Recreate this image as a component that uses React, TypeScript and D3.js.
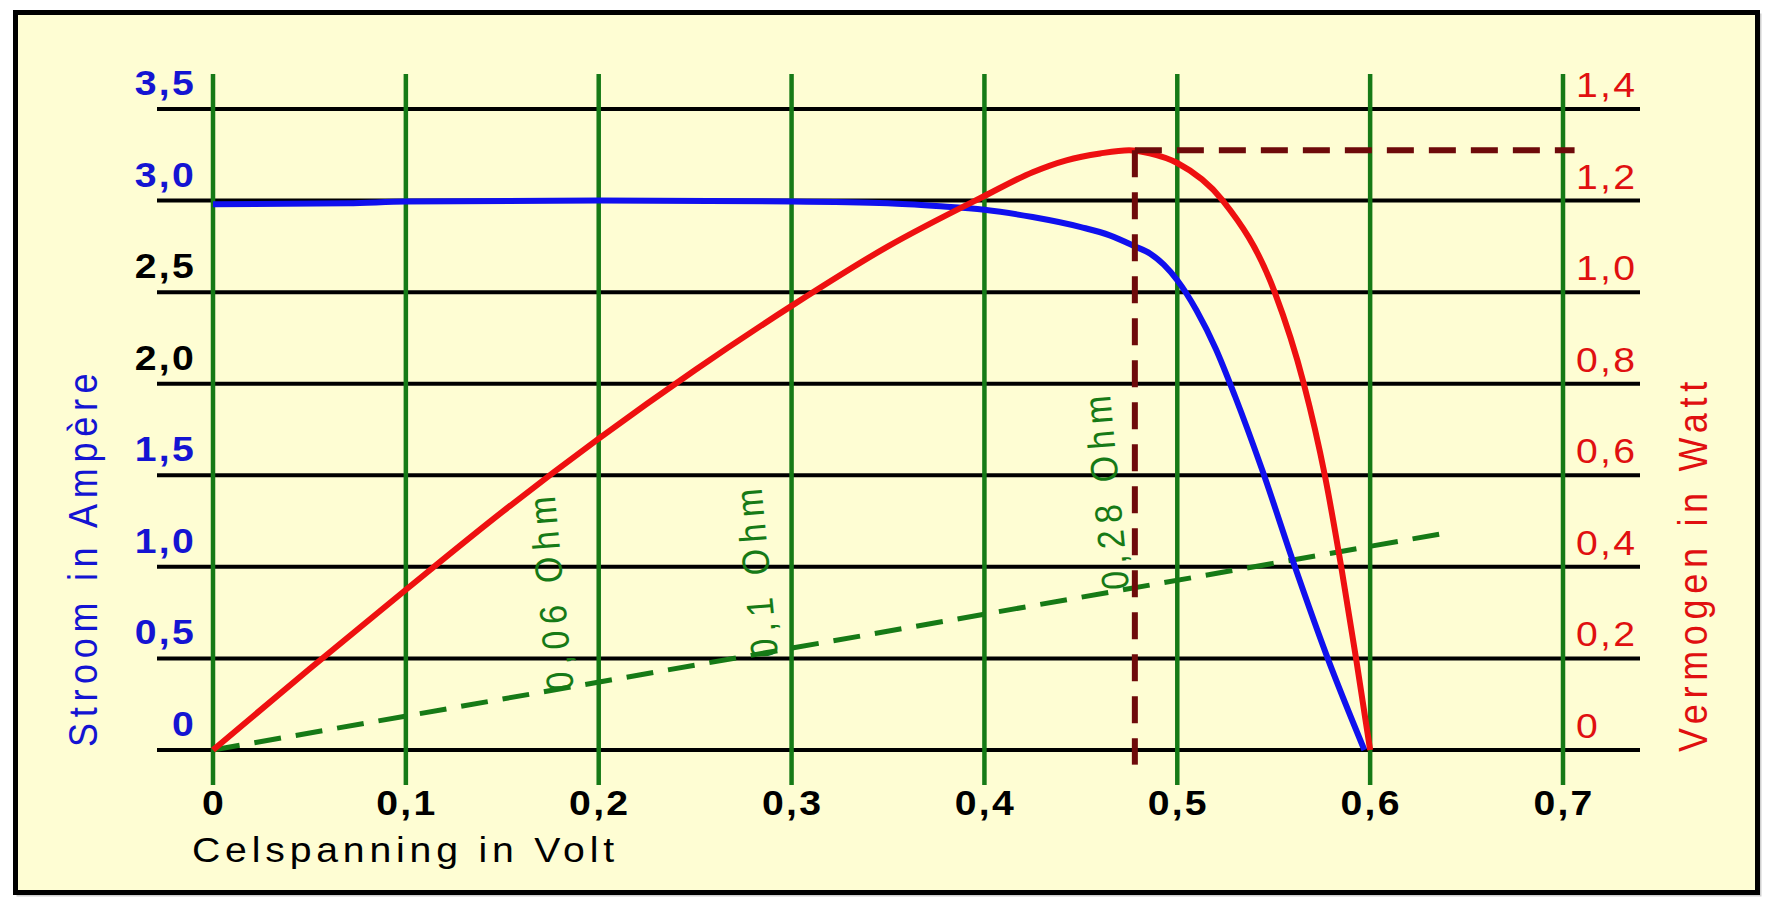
import React from 'react';
import * as d3 from 'd3';

// Cell voltage (V) vs current (A) — blue curve
const currentVolts = [0, 0.07, 0.1, 0.2, 0.3, 0.35, 0.375, 0.4, 0.425, 0.45, 0.465, 0.478, 0.486, 0.493, 0.5, 0.51, 0.52, 0.53, 0.544, 0.561, 0.578, 0.597];
const currentAmps = [2.98, 2.985, 2.995, 3.0, 2.995, 2.985, 2.97, 2.95, 2.91, 2.855, 2.81, 2.75, 2.71, 2.65, 2.565, 2.4, 2.19, 1.93, 1.53, 1.0, 0.5, 0];

// Cell voltage (V) vs power (W) — red curve
const powerVolts = [0, 0.05, 0.1, 0.15, 0.2, 0.25, 0.3, 0.35, 0.4, 0.425, 0.4425, 0.46, 0.475, 0.4857, 0.5, 0.5236, 0.5505, 0.5656, 0.5765, 0.585, 0.5927, 0.6];
const powerWatts = [0, 0.177, 0.35, 0.52, 0.68, 0.83, 0.97, 1.1, 1.21, 1.262, 1.288, 1.303, 1.31, 1.303, 1.282, 1.2, 1.0, 0.8, 0.6, 0.4, 0.2, 0];

// maximum power point and the dashed guide lines
const mppVolt = 0.478;
const mppWatt = 1.31;
const mppLineEndVolt = 0.706;
const mppLineBottomAmp = -0.08;

// dashed load line (V, A)
const loadLineVolts = [0, 0.642];
const loadLineAmps = [0, 1.19];

// resistance labels: voltage / current where each label starts
const ohmLabels = ['0,06 Ohm', '0,1 Ohm', '0,28 Ohm'];
const ohmLabelVolts = [0.187, 0.293, 0.475];
const ohmLabelAmps = [0.33, 0.51, 0.88];

const voltTicks = [0, 0.1, 0.2, 0.3, 0.4, 0.5, 0.6, 0.7];
const voltLabels = ['0', '0,1', '0,2', '0,3', '0,4', '0,5', '0,6', '0,7'];
const ampTicks = [0, 0.5, 1.0, 1.5, 2.0, 2.5, 3.0, 3.5];
const ampLabels = ['0', '0,5', '1,0', '1,5', '2,0', '2,5', '3,0', '3,5'];
const ampLabelColors = ['#1414d2', '#1414d2', '#1414d2', '#1414d2', '#000', '#000', '#1414d2', '#1414d2'];
const wattTicks = [0, 0.2, 0.4, 0.6, 0.8, 1.0, 1.2, 1.4];
const wattLabels = ['0', '0,2', '0,4', '0,6', '0,8', '1,0', '1,2', '1,4'];

const W = 1772;
const H = 910;
const SX = 1.12;
const FONT = "'Liberation Sans', Arial, Helvetica, sans-serif";
const GREEN = '#167a16';
const BLUE = '#1010ee';
const RED = '#ee1010';

const App: React.FC = () => {
  const x = d3.scaleLinear().domain([0, 0.7]).range([213, 1563]);
  const yI = d3.scaleLinear().domain([0, 3.5]).range([750, 109]);
  const yP = d3.scaleLinear().domain([0, 1.4]).range([750, 109]);

  const currentLine = d3.line<number>()
    .x((_, i) => x(currentVolts[i]))
    .y(d => yI(d))
    .curve(d3.curveMonotoneX);

  const powerLine = d3.line<number>()
    .x((_, i) => x(powerVolts[i]))
    .y(d => yP(d))
    .curve(d3.curveMonotoneX);

  const loadLine = d3.line<number>()
    .x((_, i) => x(loadLineVolts[i]))
    .y(d => yI(d));

  const gridLeft = 157;
  const gridRight = 1640;
  const vTop = yI(3.5) - 35;
  const vBottom = yI(0) + 35;

  return (
    <svg width={W} height={H} style={{ position: 'absolute', left: 0, top: 0, background: '#fff' }}>
      {/* frame */}
      <rect x={18} y={15} width={1742} height={880} fill="none" stroke="#cfcfcf" strokeWidth={3} />
      <rect x={15.5} y={12.5} width={1742} height={880} fill="#fefdd3" stroke="#000" strokeWidth={5} />

      {/* horizontal grid */}
      {ampTicks.map(v => (
        <line key={'h' + v} x1={gridLeft} x2={gridRight} y1={yI(v)} y2={yI(v)} stroke="#000" strokeWidth={4} />
      ))}

      {/* vertical grid */}
      {voltTicks.map(v => (
        <line key={'v' + v} x1={x(v)} x2={x(v)} y1={vTop} y2={vBottom} stroke={GREEN} strokeWidth={4.5} />
      ))}

      {/* load line */}
      <path d={loadLine(loadLineAmps) || ''} fill="none" stroke={GREEN} strokeWidth={5} strokeDasharray="27 15" />

      {/* curves */}
      <path d={currentLine(currentAmps) || ''} fill="none" stroke={BLUE} strokeWidth={6} strokeLinejoin="round" />
      <path d={powerLine(powerWatts) || ''} fill="none" stroke={RED} strokeWidth={6} strokeLinejoin="round" />

      {/* maximum power point guides */}
      <line x1={x(mppVolt)} x2={x(mppVolt)} y1={yP(mppWatt)} y2={yI(mppLineBottomAmp)} stroke="#6e0a0a" strokeWidth={6} strokeDasharray="27 15" />
      <line x1={x(mppVolt)} x2={x(mppLineEndVolt)} y1={yP(mppWatt)} y2={yP(mppWatt)} stroke="#6e0a0a" strokeWidth={6} strokeDasharray="27 15" />

      <g fontFamily={FONT}>
        {/* left ticks */}
        {ampTicks.map((v, i) => (
          <text key={'la' + v} transform={`translate(196,${yI(v) - 14}) scale(${SX},1)`} textAnchor="end"
            fontSize={35} fontWeight="bold" letterSpacing={2} fill={ampLabelColors[i]}>{ampLabels[i]}</text>
        ))}
        {/* right ticks */}
        {wattTicks.map((v, i) => (
          <text key={'rw' + v} transform={`translate(1576,${yP(v) - 12}) scale(${SX},1)`}
            fontSize={35} letterSpacing={2} fill="#e01010">{wattLabels[i]}</text>
        ))}
        {/* bottom ticks */}
        {voltTicks.map((v, i) => (
          <text key={'bv' + v} transform={`translate(${x(v) + 1},815) scale(${SX},1)`} textAnchor="middle"
            fontSize={35} fontWeight="bold" letterSpacing={2} fill="#000">{voltLabels[i]}</text>
        ))}

        {/* axis titles */}
        <text transform={`translate(192,862) scale(${SX},1)`} fontSize={35} letterSpacing={4.3} fill="#000">Celspanning in Volt</text>
        <text transform={`translate(97,747) scale(${SX},1) rotate(-90)`} fontSize={36} letterSpacing={5.7} fill="#1414d2">Stroom in Ampère</text>
        <text transform={`translate(1707,752) scale(${SX},1) rotate(-90)`} fontSize={36} letterSpacing={5.7} fill="#e01010">Vermogen in Watt</text>

        {/* resistance labels */}
        {ohmLabels.map((t, i) => (
          <text key={t} transform={`translate(${x(ohmLabelVolts[i])},${yI(ohmLabelAmps[i])}) scale(${SX},1) rotate(-95)`}
            fontSize={34} letterSpacing={6.5} fill={GREEN}>{t}</text>
        ))}
      </g>
    </svg>
  );
};

export default App;
